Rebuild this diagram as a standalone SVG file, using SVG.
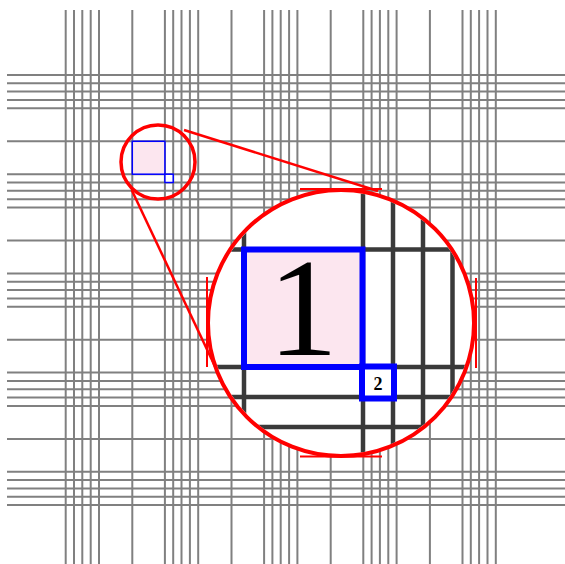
<svg xmlns="http://www.w3.org/2000/svg" width="565" height="564" viewBox="0 0 565 564">
<style>
.grid{stroke:#808080;stroke-width:2;fill:none}
.mag{stroke:#3a3a3a;stroke-width:4.5;fill:none}
.red{stroke:#ff0000;fill:none}
.blue{stroke:#0000ff}
.serif{font-family:"Liberation Serif","Times New Roman",serif;fill:#000}
</style>
<defs>
<clipPath id="lens"><circle cx="341" cy="323" r="131"/></clipPath>
</defs>
<rect width="565" height="564" fill="#fff"/>
<g id="grid-vertical" class="grid">
<path d="M65.7 10V564M74 10V564M82.3 10V564M90.7 10V564M99 10V564M132.3 10V564M164.9 10V564M173.2 10V564M181.5 10V564M189.9 10V564M198.2 10V564M231.5 10V564M264.1 10V564M272.4 10V564M280.7 10V564M289.1 10V564M297.4 10V564M330.7 10V564M363.3 10V564M371.6 10V564M379.9 10V564M388.3 10V564M396.6 10V564M429.9 10V564M462.5 10V564M470.8 10V564M479.1 10V564M487.5 10V564M495.8 10V564"/>
</g>
<g id="grid-horizontal" class="grid">
<path d="M7 75H565M7 83.3H565M7 91.6H565M7 100H565M7 108.3H565M7 141.3H565M7 174.2H565M7 182.5H565M7 190.8H565M7 199.2H565M7 207.5H565M7 240.5H565M7 273.4H565M7 281.7H565M7 290H565M7 298.4H565M7 306.7H565M7 339.7H565M7 372.6H565M7 380.9H565M7 389.2H565M7 397.6H565M7 405.9H565M7 438.9H565M7 471.8H565M7 480.1H565M7 488.4H565M7 496.8H565M7 505.1H565"/>
</g>
<g id="cell-1-small">
<rect x="132.3" y="141.3" width="32.6" height="32.9" fill="#fce6ef" class="blue" stroke-width="1.5"/>
</g>
<g id="cell-2-small">
<rect x="164.9" y="174.2" width="8.3" height="8.3" fill="#fff" class="blue" stroke-width="1.5"/>
</g>
<g id="small-lens">
<circle cx="158" cy="162" r="37" class="red" stroke-width="3.5"/>
</g>
<g id="connectors" class="red" stroke-width="2.5">
<line x1="184" y1="130" x2="378" y2="191"/>
<line x1="131.7" y1="190" x2="220" y2="377"/>
</g>
<g id="big-lens">
<circle cx="341" cy="323" r="133" fill="#fff"/>
<g clip-path="url(#lens)">
<path class="mag" d="M244 150V500M363 150V500M393 150V500M423 150V500M452.5 150V500M150 249.5H500M150 367H500M150 397H500M150 427H500"/>
<g id="cell-1-big">
<rect x="244" y="249.5" width="118.5" height="117.5" fill="#fce6ef" class="blue" stroke-width="6"/>
<text x="303" y="355" class="serif" font-size="140" text-anchor="middle">1</text>
</g>
<g id="cell-2-big">
<rect x="362" y="366.5" width="32" height="32" fill="#fff" class="blue" stroke-width="6"/>
<text x="378" y="390" class="serif" font-size="18" font-weight="bold" text-anchor="middle">2</text>
</g>
</g>
<circle cx="341" cy="323" r="133" class="red" stroke-width="4"/>
<path class="red" stroke-width="2" d="M207 277V367M476 278V368M300 189H382M300 456.5H382"/>
</g>
</svg>
